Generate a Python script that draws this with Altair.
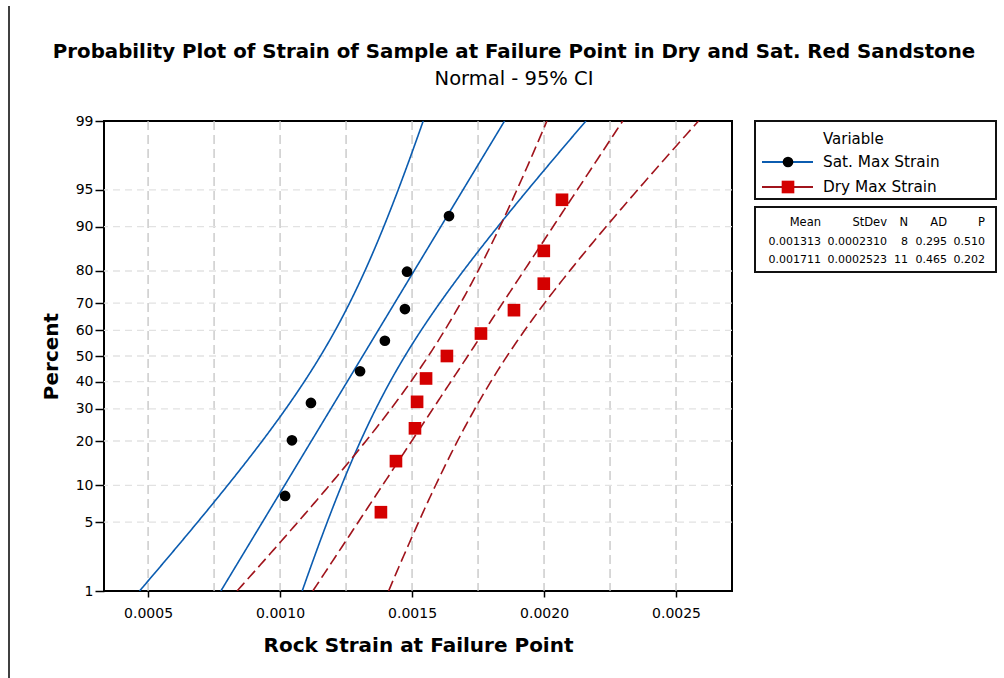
import altair as alt
import numpy as np
import pandas as pd
from statistics import NormalDist

# ---- data -------------------------------------------------------------
# Strain at failure point with median-rank plotting positions (percent)
sat_strain = [0.001019, 0.001045, 0.001117, 0.001303, 0.001397, 0.001473, 0.001481, 0.001640]
sat_pct = [8.3, 20.2, 32.1, 44.0, 56.0, 67.9, 79.8, 91.7]
dry_strain = [0.001382, 0.001439, 0.001511, 0.001519, 0.001553, 0.001632,
              0.001761, 0.001886, 0.001999, 0.001999, 0.002068]
dry_pct = [6.1, 14.9, 23.7, 32.5, 41.2, 50.0, 58.8, 67.5, 76.3, 85.1, 93.9]

# Summary statistics of each sample (normal fit)
series_names = ["Sat. Max Strain", "Dry Max Strain"]
means = [0.001313, 0.001711]
stdevs = [0.0002310, 0.0002523]
counts = [8, 11]
ad_stats = [0.295, 0.465]
p_values = [0.510, 0.202]

# Axis ticks
pct_ticks = [1, 5, 10, 20, 30, 40, 50, 60, 70, 80, 90, 95, 99]
pct_grid = [5, 10, 20, 30, 40, 50, 60, 70, 80, 90, 95]
strain_ticks = [0.0005, 0.0010, 0.0015, 0.0020, 0.0025]
strain_grid = [0.0005, 0.00075, 0.0010, 0.00125, 0.0015, 0.00175, 0.0020, 0.00225, 0.0025]

# ---- styling ------------------------------------------------------------
FONT = "DejaVu Sans"
W, H = 628, 470
BLUE = "#0b5cb0"
DARKRED = "#a0141c"
RED = "#d40000"

nd = NormalDist()
z_lo, z_hi = nd.inv_cdf(0.01), nd.inv_cdf(0.99)
z_ticks = [nd.inv_cdf(p / 100) for p in pct_ticks]

xscale = alt.Scale(domain=[0.000333, 0.002712], nice=False, zero=False)
yscale = alt.Scale(domain=[z_lo, z_hi], nice=False, zero=False)

x_axis = alt.Axis(values=strain_ticks, format=".4f", title="Rock Strain at Failure Point",
                  grid=False, domain=False, tickSize=6, tickWidth=1.5, tickColor="black",
                  labelFontSize=14, labelPadding=9, labelColor="black",
                  titleFontSize=20, titleFontWeight="bold", titlePadding=15, titleColor="black",
                  labelFont=FONT, titleFont=FONT)
y_axis = alt.Axis(values=z_ticks, labelExpr="round(cumulativeNormal(datum.value) * 100)",
                  title="Percent", grid=False, domain=False, tickSize=9, tickWidth=1.5,
                  tickColor="black", labelFontSize=14, labelPadding=2, labelColor="black",
                  titleFontSize=20, titleFontWeight="bold", titlePadding=14, titleColor="black",
                  labelFont=FONT, titleFont=FONT)

X = lambda f: alt.X(f, type="quantitative", scale=xscale, axis=x_axis)
Y = lambda f: alt.Y(f, type="quantitative", scale=yscale, axis=y_axis)

layers = []

# Dashed reference grid
layers.append(
    alt.Chart(pd.DataFrame({"g": strain_grid}))
    .mark_rule(color="#c4c4c4", strokeDash=[9, 5], strokeWidth=1.3)
    .encode(x=X("g"))
)
layers.append(
    alt.Chart(pd.DataFrame({"pct": pct_grid}))
    .transform_calculate(z="quantileNormal(datum.pct / 100)")
    .mark_rule(color="#e2e2e2", strokeDash=[7, 5], strokeWidth=1.3)
    .encode(y=Y("z"))
)

# Fitted normal line with 95% confidence bounds for each sample
zgrid = np.linspace(z_lo, z_hi, 161)
styles = [
    dict(line=BLUE, dash=[1, 0], shape="circle", fill="black", size=115),
    dict(line=DARKRED, dash=[11, 5], shape="square", fill=RED, size=160),
]
samples = [(sat_strain, sat_pct), (dry_strain, dry_pct)]

for i, name in enumerate(series_names):
    mu, sd, n = means[i], stdevs[i], counts[i]
    fit = mu + zgrid * sd
    half = 1.96 * sd * np.sqrt(1.0 / n + zgrid ** 2 / (2.0 * n))
    curves = pd.concat([
        pd.DataFrame({"z": zgrid, "x": fit - half, "kind": "lower"}),
        pd.DataFrame({"z": zgrid, "x": fit, "kind": "fit"}),
        pd.DataFrame({"z": zgrid, "x": fit + half, "kind": "upper"}),
    ])
    st = styles[i]
    layers.append(
        alt.Chart(curves)
        .mark_line(color=st["line"], strokeDash=st["dash"], strokeWidth=1.6, clip=True)
        .encode(x=X("x"), y=Y("z"), detail="kind:N", order="z:Q")
    )

for i, name in enumerate(series_names):
    st = styles[i]
    strain, pct = samples[i]
    layers.append(
        alt.Chart(pd.DataFrame({"strain": strain, "pct": pct}))
        .transform_calculate(z="quantileNormal(datum.pct / 100)")
        .mark_point(shape=st["shape"], filled=True, size=st["size"], color=st["fill"], opacity=1)
        .encode(x=X("strain"), y=Y("z"))
    )


def label(text, x, y, size, weight="normal", align="left"):
    return (
        alt.Chart(pd.DataFrame({"t": [text]}))
        .mark_text(align=align, baseline="middle", fontSize=size, fontWeight=weight,
                   font=FONT, color="black")
        .encode(x=alt.value(x), y=alt.value(y), text="t:N")
    )


def box(x0, y0, x1, y1):
    return (
        alt.Chart(pd.DataFrame({"b": [0]}))
        .mark_rect(fill="white", stroke="#111111", strokeWidth=2)
        .encode(x=alt.value(x0), x2=alt.value(x1), y=alt.value(y0), y2=alt.value(y1))
    )


# Titles
layers.append(label("Probability Plot of Strain of Sample at Failure Point in Dry and Sat. Red Sandstone",
                    410, -69, 19.8, "bold", "center"))
layers.append(label("Normal - 95% CI", 410, -42, 19.5, "normal", "center"))

# Left edge rule
layers.append(
    alt.Chart(pd.DataFrame({"b": [0]}))
    .mark_rule(color="black", strokeWidth=1.5)
    .encode(x=alt.value(-95), y=alt.value(-115), y2=alt.value(557))
)

# Legend box
layers.append(box(651, 0, 892, 78))
layers.append(label("Variable", 719, 18, 15))
legend_y = [41, 66]
for i, name in enumerate(series_names):
    st = styles[i]
    layers.append(
        alt.Chart(pd.DataFrame({"b": [0]}))
        .mark_rule(color=st["line"], strokeWidth=2)
        .encode(x=alt.value(658), x2=alt.value(709), y=alt.value(legend_y[i]))
    )
    layers.append(
        alt.Chart(pd.DataFrame({"b": [0]}))
        .mark_point(shape=st["shape"], filled=True, size=st["size"], color=st["fill"], opacity=1)
        .encode(x=alt.value(684), y=alt.value(legend_y[i]))
    )
    layers.append(label(name, 719, legend_y[i], 15.3))

# Statistics table
layers.append(box(651, 86, 892, 151))
col_right = [717, 783, 804, 843, 881]
row_y = [102, 121, 139]
header = ["Mean", "StDev", "N", "AD", "P"]
for c, h in enumerate(header):
    layers.append(label(h, col_right[c], row_y[0], 11.5, align="right"))
for i in range(len(series_names)):
    cells = [f"{means[i]:.6f}", f"{stdevs[i]:.7f}", str(counts[i]),
             f"{ad_stats[i]:.3f}", f"{p_values[i]:.3f}"]
    for c, txt in enumerate(cells):
        layers.append(label(txt, col_right[c], row_y[i + 1], 11, align="right"))

chart = (
    alt.layer(*layers)
    .properties(width=W, height=H,
                padding={"left": 104, "top": 121, "right": 272, "bottom": 87},
                autosize=alt.AutoSizeParams(type="none"),
                background="white")
    .configure_view(stroke="black", strokeWidth=2)
)

chart.save("out.html", embed_options={"renderer": "svg", "actions": False})
